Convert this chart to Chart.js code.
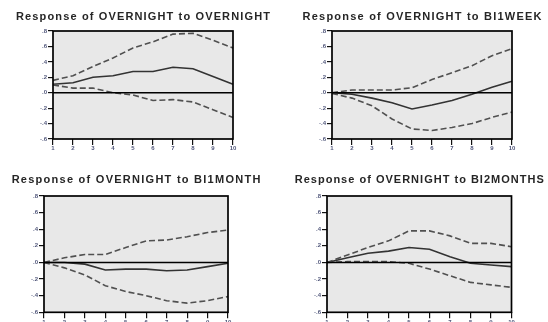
<!DOCTYPE html>
<html>
<head>
<meta charset="utf-8">
<script src="https://cdn.jsdelivr.net/npm/chart.js@4.4.1/dist/chart.umd.min.js"></script>
<style>
  html, body { margin: 0; padding: 0; background: #ffffff; }
  #wrap { position: relative; width: 548px; height: 322px; overflow: hidden; }
  #wrap canvas { position: absolute; left: 0; top: 0; }
</style>
</head>
<body>
<div id="wrap">
  <canvas id="p1" width="548" height="322"></canvas>
  <canvas id="p2" width="548" height="322"></canvas>
  <canvas id="p3" width="548" height="322"></canvas>
  <canvas id="p4" width="548" height="322"></canvas>
</div>
<script>
// Impulse-response horizon (periods)
const periods = ['1', '2', '3', '4', '5', '6', '7', '8', '9', '10'];
const yTicks = [-0.6, -0.4, -0.2, 0, 0.2, 0.4, 0.6, 0.8];

// Response of OVERNIGHT to OVERNIGHT
const onOnResp  = [0.11, 0.13, 0.20, 0.22, 0.275, 0.275, 0.33, 0.31, 0.21, 0.11];
const onOnUpper = [0.16, 0.22, 0.34, 0.45, 0.58, 0.66, 0.76, 0.77, 0.68, 0.58];
const onOnLower = [0.10, 0.06, 0.06, 0.00, -0.03, -0.10, -0.09, -0.12, -0.22, -0.32];

// Response of OVERNIGHT to BI1WEEK
const onWkResp  = [0.00, -0.02, -0.07, -0.13, -0.21, -0.16, -0.10, -0.02, 0.07, 0.15];
const onWkUpper = [0.00, 0.035, 0.035, 0.035, 0.065, 0.17, 0.26, 0.35, 0.48, 0.57];
const onWkLower = [-0.01, -0.07, -0.17, -0.34, -0.47, -0.49, -0.45, -0.40, -0.32, -0.25];

// Response of OVERNIGHT to BI1MONTH
const onMoResp  = [0.00, 0.00, -0.02, -0.09, -0.08, -0.08, -0.10, -0.09, -0.05, -0.01];
const onMoUpper = [0.00, 0.056, 0.096, 0.096, 0.18, 0.26, 0.27, 0.31, 0.36, 0.39];
const onMoLower = [0.00, -0.065, -0.15, -0.28, -0.35, -0.40, -0.46, -0.49, -0.46, -0.41];

// Response of OVERNIGHT to BI2MONTHS
const on2mResp  = [0.00, 0.056, 0.11, 0.136, 0.18, 0.16, 0.07, -0.01, -0.03, -0.05];
const on2mUpper = [0.00, 0.09, 0.18, 0.26, 0.38, 0.38, 0.32, 0.23, 0.23, 0.19];
const on2mLower = [0.00, 0.01, 0.01, 0.01, -0.01, -0.08, -0.16, -0.24, -0.27, -0.30];

const titles = [
  'Response of OVERNIGHT to OVERNIGHT',
  'Response of OVERNIGHT to BI1WEEK',
  'Response of OVERNIGHT to BI1MONTH',
  'Response of OVERNIGHT to BI2MONTHS'
];

// Grey panel, zero line and frame around each plot area
const panelFrame = {
  id: 'panelFrame',
  beforeDatasetsDraw(chart) {
    const { ctx, chartArea: a } = chart;
    ctx.save();
    ctx.fillStyle = '#e8e8e8';
    ctx.fillRect(a.left, a.top, a.right - a.left, a.bottom - a.top);
    ctx.restore();
  },
  afterDatasetsDraw(chart) {
    const { ctx, chartArea: a, scales } = chart;
    const y0 = scales.y.getPixelForValue(0);
    ctx.save();
    ctx.strokeStyle = '#000000';
    ctx.lineWidth = 1.6;
    ctx.beginPath();
    ctx.moveTo(a.left, y0);
    ctx.lineTo(a.right, y0);
    ctx.stroke();
    ctx.lineWidth = 1.7;
    ctx.strokeRect(a.left, a.top, a.right - a.left, a.bottom - a.top);
    ctx.restore();
  }
};

// Panel heading centred above the plot area
const panelTitle = {
  id: 'panelTitle',
  afterDraw(chart, args, opts) {
    const { ctx, chartArea: a } = chart;
    ctx.save();
    ctx.font = 'bold 11px "Liberation Sans", Arial, sans-serif';
    ctx.fillStyle = '#262626';
    const natural = ctx.measureText(opts.text).width;
    const spacing = (opts.width - natural) / opts.text.length;
    ctx.letterSpacing = spacing.toFixed(2) + 'px';
    ctx.textAlign = 'left';
    ctx.textBaseline = 'middle';
    const w = ctx.measureText(opts.text).width - spacing;
    ctx.fillText(opts.text, (a.left + a.right) / 2 - w / 2, opts.y);
    ctx.restore();
  }
};

function fmtTick(v) {
  const s = Math.abs(v) < 1e-9 ? '0.0' : v.toFixed(1);
  return s.replace('0.', '.');
}

function makePanel(id, title, resp, upper, lower, area, titleY, titleW) {
  const yW = 16;
  const xH = Math.min(14, 322 - area.bottom);
  const tickFont = { family: '"Liberation Sans", Arial, sans-serif', size: 6, weight: 'bold' };
  const lineStyle = (data, dashed) => ({
    data: data,
    borderColor: dashed ? '#505050' : '#333333',
    borderWidth: 1.6,
    borderDash: dashed ? [6, 3] : [],
    pointRadius: 0,
    tension: 0,
    fill: false
  });
  return new Chart(document.getElementById(id), {
    type: 'line',
    data: {
      labels: periods,
      datasets: [lineStyle(upper, true), lineStyle(lower, true), lineStyle(resp, false)]
    },
    options: {
      responsive: false,
      animation: false,
      events: [],
      layout: {
        padding: {
          left: area.left - yW,
          right: 548 - area.right,
          top: area.top,
          bottom: 322 - area.bottom - xH
        }
      },
      plugins: {
        legend: { display: false },
        tooltip: { enabled: false },
        title: { display: false },
        panelTitle: { text: title, y: titleY, width: titleW }
      },
      scales: {
        x: {
          type: 'category',
          offset: false,
          grid: { drawOnChartArea: false, drawTicks: true, tickLength: 6, color: '#111111', lineWidth: 1.2 },
          border: { display: false },
          ticks: { color: '#50567a', font: tickFont, padding: 0, maxRotation: 0, autoSkip: false },
          afterFit(s) { s.height = xH; }
        },
        y: {
          min: -0.6,
          max: 0.8,
          grid: { drawOnChartArea: false, drawTicks: true, tickLength: 5, color: '#111111', lineWidth: 1.2 },
          border: { display: false },
          afterBuildTicks(s) { s.ticks = yTicks.map(v => ({ value: v })); },
          ticks: { color: '#50567a', font: tickFont, padding: 1, callback: v => fmtTick(v) },
          afterFit(s) { s.width = yW; }
        }
      }
    },
    plugins: [panelFrame, panelTitle]
  });
}

makePanel('p1', titles[0], onOnResp, onOnUpper, onOnLower,
  { left: 53, right: 233, top: 31, bottom: 139 }, 16.7, 255);
makePanel('p2', titles[1], onWkResp, onWkUpper, onWkLower,
  { left: 332, right: 512, top: 31, bottom: 139 }, 16.7, 240);
makePanel('p3', titles[2], onMoResp, onMoUpper, onMoLower,
  { left: 44, right: 228, top: 196, bottom: 312.3 }, 180, 250);
makePanel('p4', titles[3], on2mResp, on2mUpper, on2mLower,
  { left: 327, right: 511.5, top: 196, bottom: 312.3 }, 180.3, 250);
</script>
</body>
</html>
